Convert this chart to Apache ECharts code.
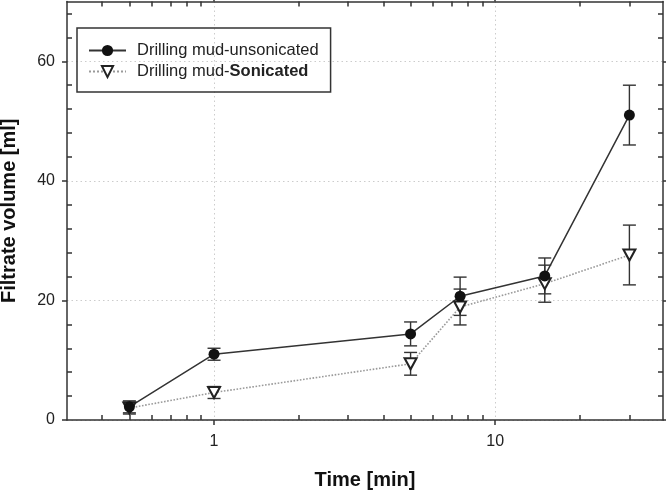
<!DOCTYPE html>
<html>
<head>
<meta charset="utf-8">
<script src="https://cdn.jsdelivr.net/npm/echarts@6/dist/echarts.min.js"></script>
<style>
  html, body { margin: 0; padding: 0; background: #fff; }
  #cc { width: 666px; height: 492px; }
</style>
</head>
<body>
<div id="cc"></div>
<script>
// time points (min), log axis
var times = [0.5, 1, 5, 7.5, 15, 30];
// filtrate volume (ml) and error (+/-)
var unsonicated = [2.2, 11.0, 14.4, 20.7, 24.1, 51.0];
var unsonicatedErr = [1.0, 1.0, 2.0, 3.2, 3.0, 5.0];
var sonicated = [2.0, 4.6, 9.4, 18.9, 22.8, 27.6];
var sonicatedErr = [1.0, 1.0, 1.9, 3.0, 3.1, 5.0];

var xLabels = [1, 10];
var xMinorTicks = [0.4, 0.5, 0.6, 0.7, 0.8, 0.9, 2, 3, 4, 5, 6, 7, 8, 9, 20, 30];
var yLabels = [0, 20, 40, 60];
var yMinorTicks = [4, 8, 12, 16, 24, 28, 32, 36, 44, 48, 52, 56, 64, 68];

var nameA = 'Drilling mud-unsonicated';
var nameB = 'Drilling mud-Sonicated';

var font = 'Liberation Sans, Arial, Helvetica, sans-serif';
var frame = { color: '#333', width: 1.5 };
var gridRect = { left: 67, right: 3, top: 1.5, bottom: 72, containLabel: false, outerBoundsMode: 'none' };

function pts(xs, ys) {
    return xs.map(function (x, i) { return [x, ys[i]]; });
}
function bars(xs, ys, es) {
    return xs.map(function (x, i) { return [x, ys[i] - es[i], ys[i] + es[i]]; });
}

function renderBar(params, api) {
    var x = api.value(0);
    var lo = api.coord([x, api.value(1)]);
    var hi = api.coord([x, api.value(2)]);
    var w = 6.5;
    var st = { stroke: '#333', lineWidth: 1.4 };
    return {
        type: 'group',
        children: [
            { type: 'line', shape: { x1: lo[0], y1: lo[1], x2: hi[0], y2: hi[1] }, style: st },
            { type: 'line', shape: { x1: lo[0] - w, y1: lo[1], x2: lo[0] + w, y2: lo[1] }, style: st },
            { type: 'line', shape: { x1: hi[0] - w, y1: hi[1], x2: hi[0] + w, y2: hi[1] }, style: st }
        ]
    };
}

function xAxisDef(grid, pos, ticks, inside, main) {
    return {
        type: 'log', logBase: 10, gridIndex: grid, position: pos,
        min: 0.3, max: 39.5,
        axisLine: { show: main, onZero: false, lineStyle: frame },
        axisTick: { show: true, inside: inside, length: 5, customValues: ticks, lineStyle: frame },
        axisLabel: { show: false },
        splitLine: { show: false },
        minorTick: { show: false }
    };
}
function yAxisDef(grid, pos, ticks, inside, main) {
    return {
        type: 'value', gridIndex: grid, position: pos,
        min: 0, max: 70,
        axisLine: { show: main, onZero: false, lineStyle: frame },
        axisTick: { show: true, inside: inside, length: 5, customValues: ticks, lineStyle: frame },
        axisLabel: { show: false },
        splitLine: { show: false }
    };
}

var chart = echarts.init(document.getElementById('cc'));

var xBottom = xAxisDef(0, 'bottom', xLabels, false, true);
xBottom.axisLabel = { show: true, customValues: xLabels, fontSize: 16, margin: 14, color: '#222', fontFamily: font };
xBottom.splitLine = { show: true, lineStyle: { color: '#cccccc', type: [1.5, 3], width: 1 } };
xBottom.name = 'Time [min]';
xBottom.nameLocation = 'middle';
xBottom.nameGap = 50;
xBottom.nameTextStyle = { fontSize: 20, fontWeight: 'bold', color: '#111', fontFamily: font };

var yLeft = yAxisDef(0, 'left', yLabels, false, true);
yLeft.axisLabel = { show: true, customValues: yLabels, fontSize: 16, margin: 12, color: '#222', fontFamily: font };
yLeft.splitLine = { show: true, lineStyle: { color: '#cccccc', type: [1.5, 3], width: 1 } };
yLeft.name = 'Filtrate volume [ml]';
yLeft.nameLocation = 'middle';
yLeft.nameGap = 48;
yLeft.nameTextStyle = { fontSize: 20, fontWeight: 'bold', color: '#111', fontFamily: font };

var option = {
    animation: false,
    backgroundColor: '#fff',
    textStyle: { fontFamily: font },
    grid: [
        Object.assign({}, gridRect),
        Object.assign({}, gridRect)
    ],
    legend: {
        orient: 'vertical',
        left: 77, top: 28,
        padding: [14, 12, 12, 11],
        itemGap: 4,
        itemWidth: 37,
        itemHeight: 14,
        borderColor: '#333',
        borderWidth: 1.5,
        data: [nameA, nameB],
        formatter: function (name) {
            if (name === nameB) return '{n|Drilling mud-}{b|Sonicated}';
            return '{n|' + name + '}';
        },
        textStyle: {
            rich: {
                n: { fontSize: 16.5, color: '#222', fontFamily: font, padding: [0, 0, 0, 6] },
                b: { fontSize: 16.5, color: '#222', fontWeight: 'bold', fontFamily: font }
            }
        }
    },
    xAxis: [
        xBottom,
        xAxisDef(0, 'top', xLabels, false, true),
        xAxisDef(1, 'bottom', xMinorTicks, true, false),
        xAxisDef(1, 'top', xMinorTicks, true, false)
    ],
    yAxis: [
        yLeft,
        yAxisDef(0, 'right', yLabels, false, true),
        yAxisDef(1, 'left', yMinorTicks, true, false),
        yAxisDef(1, 'right', yMinorTicks, true, false)
    ],
    series: [
        {
            type: 'custom', name: 'errA', xAxisIndex: 0, yAxisIndex: 0,
            renderItem: renderBar, encode: { x: 0, y: [1, 2] },
            data: bars(times, unsonicated, unsonicatedErr)
        },
        {
            type: 'custom', name: 'errB', xAxisIndex: 0, yAxisIndex: 0,
            renderItem: renderBar, encode: { x: 0, y: [1, 2] },
            data: bars(times, sonicated, sonicatedErr)
        },
        {
            name: nameB, type: 'line', xAxisIndex: 0, yAxisIndex: 0,
            symbol: 'emptyTriangle', symbolRotate: 180, symbolSize: [12, 11],
            itemStyle: { color: '#222', borderWidth: 1.3 },
            lineStyle: { color: '#9a9a9a', type: 'dotted', width: 1.6 },
            data: pts(times, sonicated)
        },
        {
            name: nameA, type: 'line', xAxisIndex: 0, yAxisIndex: 0,
            symbol: 'circle', symbolSize: 11,
            itemStyle: { color: '#111' },
            lineStyle: { color: '#333', width: 1.5 },
            data: pts(times, unsonicated)
        }
    ]
};

chart.setOption(option);
</script>
</body>
</html>
